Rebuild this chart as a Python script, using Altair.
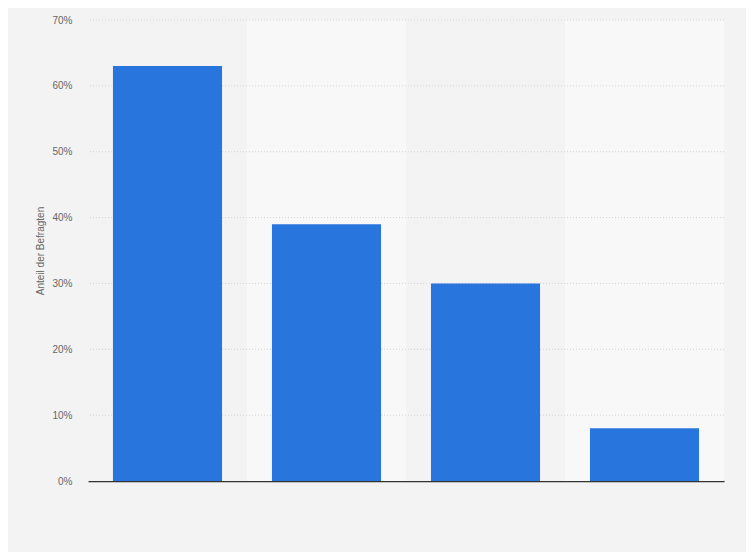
import altair as alt
import pandas as pd

categories = ["A", "B", "C", "D"]
values = [0.63, 0.39, 0.30, 0.08]
bg_shades = ["#f3f3f3", "#f8f8f8", "#f3f3f3", "#f8f8f8"]
tick_values = [0, 0.1, 0.2, 0.3, 0.4, 0.5, 0.6, 0.7]

df = pd.DataFrame({"cat": categories, "val": values, "bg": bg_shades, "top": [0.7] * 4})
grid_df = pd.DataFrame({"t": tick_values[1:]})

xscale = alt.Scale(paddingInner=0.314, paddingOuter=0.157)
x = alt.X("cat:N", scale=xscale, sort=categories,
          axis=alt.Axis(title=None, labels=False, ticks=False, domain=True,
                        domainColor="#333333", domainWidth=1.5, grid=False))
yscale = alt.Scale(domain=[0, 0.7], nice=False)

bg = alt.Chart(df).mark_bar(width=alt.RelativeBandSize(1 / (1 - 0.314))).encode(
    x=x,
    y=alt.Y("top:Q", scale=yscale,
            axis=alt.Axis(title="Anteil der Befragten", format=".0%",
                          values=tick_values,
                          grid=False,
                          domain=False, ticks=False, labelPadding=16,
                          labelColor="#666666", labelFontSize=10, labelFont="Liberation Sans",
                          titleColor="#666666", titleFontSize=10, titleFont="Liberation Sans",
                          titleFontWeight="normal", titlePadding=6)),
    color=alt.Color("bg:N", scale=None),
)

grid = alt.Chart(grid_df).mark_rule(color="#d4d4d4", strokeDash=[1, 2], strokeWidth=1).encode(
    y=alt.Y("t:Q", scale=yscale),
)

bars = alt.Chart(df).mark_bar(color="#2876dd").encode(
    x=x,
    y=alt.Y("val:Q", scale=yscale),
)

chart = alt.layer(bg, grid, bars).properties(
    width=636, height=461,
    padding={"left": 80, "top": 12, "right": 22, "bottom": 71},
    autosize=alt.AutoSizeParams(type="none"),
    background="#f3f3f3",
).configure_view(stroke=None, fill="#f3f3f3")

chart.save("out.html", embed_options={"renderer": "svg", "actions": False})
